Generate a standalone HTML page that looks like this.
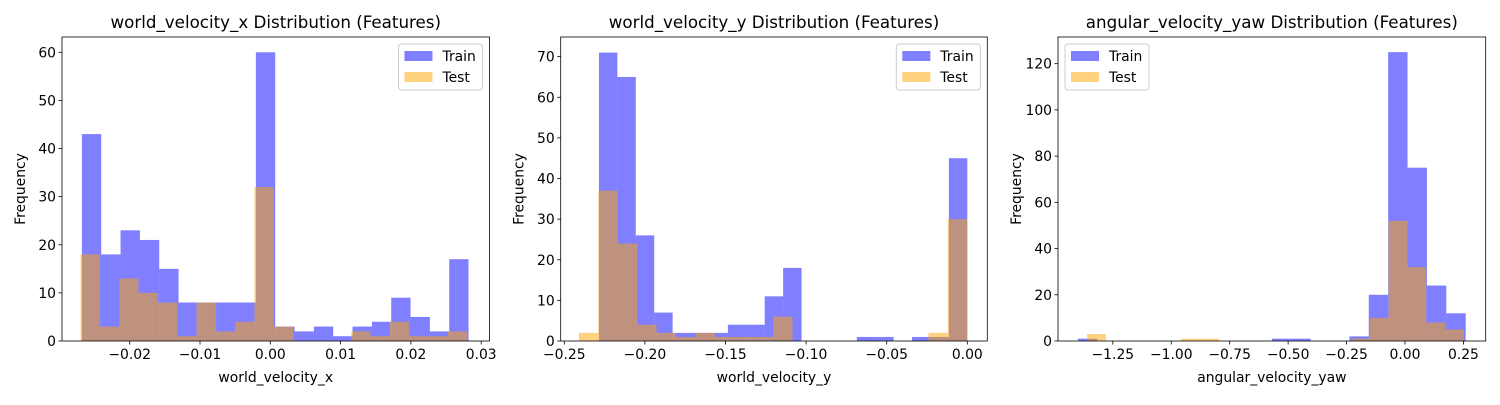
<!DOCTYPE html>
<html><head><meta charset="utf-8">
<style>
body{margin:0;background:#fff;}
svg text{font-family:"DejaVu Sans","Liberation Sans",sans-serif;fill:#000;}
</style></head>
<body>
<svg id="root" width="1500" height="400" xmlns="http://www.w3.org/2000/svg"></svg>
<script>
// Chart 1: world_velocity_x
const c1TrainCounts = [43,18,23,21,15,8,8,8,8,60,3,2,3,1,3,4,9,5,2,17];
const c1TestCounts  = [18,3,13,10,8,1,8,2,4,32,3,0,0,0,2,1,4,1,1,2];
const c1TrainRange = [-0.0268, 0.0282];
const c1TestRange  = [-0.0270, 0.0280];
const c1XTicks = [-0.02,-0.01,0.00,0.01,0.02,0.03];
const c1XTickLabels = ["\u22120.02","\u22120.01","0.00","0.01","0.02","0.03"];
const c1YTicks = [0,10,20,30,40,50,60];
// Chart 2: world_velocity_y
const c2TrainCounts = [71,65,26,7,2,2,2,4,4,11,18,0,0,0,1,1,0,1,1,45];
const c2TestCounts  = [2,37,24,4,2,1,2,1,1,1,6,0,0,0,0,0,0,0,2,30];
const c2TrainRange = [-0.2285, 0.0];
const c2TestRange  = [-0.2409, 0.0];
const c2XTicks = [-0.25,-0.20,-0.15,-0.10,-0.05,0.00];
const c2XTickLabels = ["\u22120.25","\u22120.20","\u22120.15","\u22120.10","\u22120.05","0.00"];
const c2YTicks = [0,10,20,30,40,50,60,70];
// Chart 3: angular_velocity_yaw
const c3TrainCounts = [1,0,0,0,0,0,0,0,0,0,1,1,0,0,2,20,125,75,24,12];
const c3TestCounts  = [3,0,0,0,0,1,1,0,0,0,0,0,0,0,1,10,52,32,8,5];
const c3TrainRange = [-1.399, 0.2597];
const c3TestRange  = [-1.360, 0.252];
const c3XTicks = [-1.25,-1.00,-0.75,-0.50,-0.25,0.00,0.25];
const c3XTickLabels = ["\u22121.25","\u22121.00","\u22120.75","\u22120.50","\u22120.25","0.00","0.25"];
const c3YTicks = [0,20,40,60,80,100,120];

const NS="http://www.w3.org/2000/svg";
const root=document.getElementById('root');
function mk(tag,attrs,parent){const e=document.createElementNS(NS,tag);for(const k in attrs)e.setAttribute(k,attrs[k]);(parent||root).appendChild(e);return e;}

function chart(cfg){
  const g=mk('g',{});
  
  
  const {L,R,T,B,x0,x1,y1}=cfg;
  const sx=v=>L+(v-x0)/(x1-x0)*(R-L);
  const sy=v=>B-(v/y1)*(B-T);
  function bars(counts,range,color,nm){
    const w=(range[1]-range[0])/counts.length;
    counts.forEach((c,i)=>{
      if(c<=0)return;
      const xa=sx(range[0]+i*w), xb=sx(range[0]+(i+1)*w);
      const r=mk('rect',{x:xa,y:sy(c),width:xb-xa,height:sy(0)-sy(c),fill:color,'fill-opacity':0.5},g);
      
      
    });
  }
  bars(cfg.train,cfg.trainRange,'#0000ff','train');
  bars(cfg.test,cfg.testRange,'#ffa500','test');
  const fr=mk('rect',{x:L,y:T,width:R-L,height:B-T,fill:'none',stroke:'#000','stroke-width':0.8},g);
  
  
  cfg.xticks.forEach((v,i)=>{
    const x=sx(v);
    mk('line',{x1:x,x2:x,y1:B,y2:B+3.5,stroke:'#000','stroke-width':0.8},g);
    const t=mk('text',{x:x,y:B+18,'text-anchor':'middle','font-size':13.9},g);
    t.textContent=cfg.xlabels[i];
    
    
  });
  cfg.yticks.forEach(v=>{
    const y=sy(v);
    mk('line',{x1:L,x2:L-3.5,y1:y,y2:y,stroke:'#000','stroke-width':0.8},g);
    const t=mk('text',{x:L-6,y:y+5,'text-anchor':'end','font-size':13.9},g);
    t.textContent=String(v);
    
    
  });
  const ti=mk('text',{x:(L+R)/2,y:T-9,'text-anchor':'middle','font-size':16.7},g);
  ti.textContent=cfg.title;
  
  
  const xl=mk('text',{x:(L+R)/2,y:B+41,'text-anchor':'middle','font-size':13.9},g);
  xl.textContent=cfg.xlabel;
  
  
  const yx=L-37, yy=(T+B)/2;
  const yl=mk('text',{x:yx,y:yy,'text-anchor':'middle','font-size':13.9,transform:`rotate(-90 ${yx} ${yy})`},g);
  yl.textContent='Frequency';
  
  
  // legend
  const lw=84, lh=46;
  const lx=cfg.legendLeft?L+7:R-7-lw, ly=T+7;
  const lg=mk('g',{},g);
  
  
  mk('rect',{x:lx,y:ly,width:lw,height:lh,rx:3,fill:'#fff','fill-opacity':0.8,stroke:'#ccc','stroke-width':1},lg);
  [['Train','#0000ff'],['Test','#ffa500']].forEach((e,i)=>{
    const sw=mk('rect',{x:lx+6,y:ly+7+i*21,width:28,height:10,fill:e[1],'fill-opacity':0.5},lg);
    
    
    const t=mk('text',{x:lx+44,y:ly+17+i*21,'font-size':13.9},lg);
    t.textContent=e[0];
    
    
  });
}

chart({name:'world-velocity-x-chart',L:62,R:489.5,T:37,B:341,
  x0:(62-270.3)/7030, x1:(489.5-270.3)/7030, y1:(341-37)/4.812,
  train:c1TrainCounts,test:c1TestCounts,trainRange:c1TrainRange,testRange:c1TestRange,
  xticks:c1XTicks,xlabels:c1XTickLabels,yticks:c1YTicks,
  title:'world_velocity_x Distribution (Features)',xlabel:'world_velocity_x'});
chart({name:'world-velocity-y-chart',L:560.7,R:987.3,T:37,B:341,
  x0:(560.7-967.3)/1612, x1:(987.3-967.3)/1612, y1:(341-37)/4.062,
  train:c2TrainCounts,test:c2TestCounts,trainRange:c2TrainRange,testRange:c2TestRange,
  xticks:c2XTicks,xlabels:c2XTickLabels,yticks:c2YTicks,
  title:'world_velocity_y Distribution (Features)',xlabel:'world_velocity_y'});
chart({name:'angular-velocity-yaw-chart',L:1058,R:1485.7,T:37,B:341,legendLeft:true,
  x0:(1058-1405)/233.73, x1:(1485.7-1405)/233.73, y1:(341-37)/2.311,
  train:c3TrainCounts,test:c3TestCounts,trainRange:c3TrainRange,testRange:c3TestRange,
  xticks:c3XTicks,xlabels:c3XTickLabels,yticks:c3YTicks,
  title:'angular_velocity_yaw Distribution (Features)',xlabel:'angular_velocity_yaw'});
</script>
</body></html>
